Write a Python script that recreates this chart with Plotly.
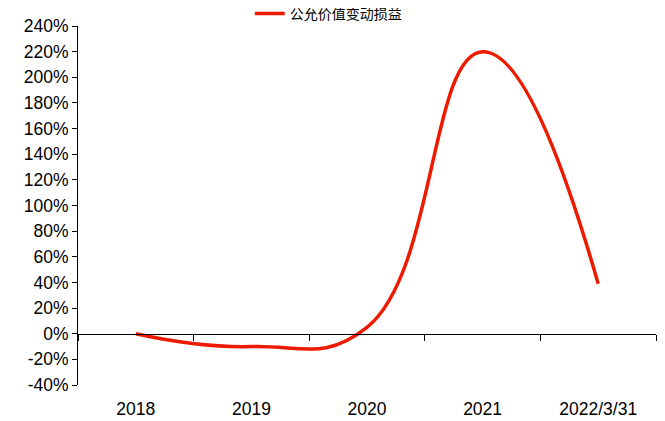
import plotly.graph_objects as go

categories = ["2018", "2019", "2020", "2021", "2022/3/31"]
values = [0, -10, 5, 220, 39]
series_name = "公允价值变动损益"
y_ticks = list(range(-40, 241, 20))
y_tick_labels = [f"{v}%" for v in y_ticks]

fig = go.Figure()
fig.add_trace(go.Scatter(
    x=categories, y=values, name=series_name, mode="lines",
    line=dict(color="#EE1A00", width=3.5, shape="spline", smoothing=1.3),
    hoverinfo="skip",
))
# helper trace so the zero-line category axis is rendered
fig.add_trace(go.Scatter(
    x=categories, y=[None] * len(categories), xaxis="x2", mode="lines",
    showlegend=False, hoverinfo="skip",
))

# the page body adds an 8px offset, so the figure is sized to compensate
W, H = 657, 413
ymin, ymax = -40, 240
fig.update_layout(
    width=W, height=H,
    margin=dict(l=70, r=9, t=18, b=36, autoexpand=False),
    paper_bgcolor="white", plot_bgcolor="white",
    font=dict(family="Liberation Sans, Arial", size=18, color="black"),
    showlegend=True,
    legend=dict(
        orientation="h", x=0.368, xanchor="left", xref="container",
        y=1 - 6 / H, yanchor="middle", yref="container",
        font=dict(family="Noto Sans CJK SC", size=14, color="black"),
        bgcolor="rgba(0,0,0,0)",
    ),
    xaxis=dict(
        type="category", range=[-0.5, len(categories) - 0.5],
        showline=False, ticks="", showgrid=False, zeroline=False,
        tickfont=dict(size=17.5), ticklabelstandoff=11,
    ),
    xaxis2=dict(
        type="category", range=[-0.5, len(categories) - 0.5],
        overlaying="x", anchor="free", position=(0 - ymin) / (ymax - ymin),
        showline=True, linecolor="black", linewidth=1,
        ticks="outside", ticklen=6, tickcolor="black", tickson="boundaries",
        showticklabels=False, showgrid=False, zeroline=False,
    ),
    yaxis=dict(
        range=[ymin, ymax], tickvals=y_ticks, ticktext=y_tick_labels,
        showline=True, linecolor="black", linewidth=1,
        ticks="outside", ticklen=5, tickcolor="black",
        showgrid=False, zeroline=False,
        tickfont=dict(size=17.5),
    ),
)

fig.write_html("out.html")
